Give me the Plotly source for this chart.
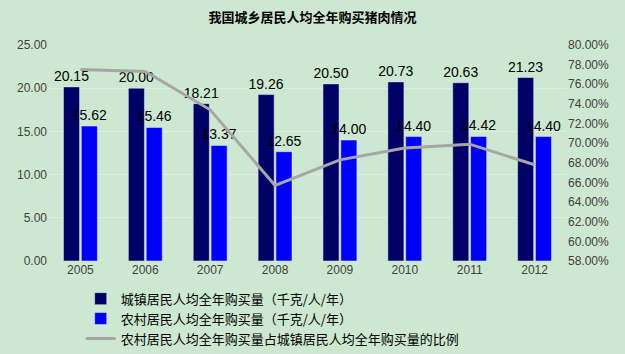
import plotly.graph_objects as go

years = ["2005", "2006", "2007", "2008", "2009", "2010", "2011", "2012"]
urban = [20.15, 20.00, 18.21, 19.26, 20.50, 20.73, 20.63, 21.23]
rural = [15.62, 15.46, 13.37, 12.65, 14.00, 14.40, 14.42, 14.40]
ratio = [77.5, 77.3, 73.4, 65.7, 68.3, 69.5, 69.9, 67.8]

name_urban = "城镇居民人均全年购买量（千克/人/年）"
name_rural = "农村居民人均全年购买量（千克/人/年）"
name_ratio = "农村居民人均全年购买量占城镇居民人均全年购买量的比例"

bg = "#CDE8D0"
grid = "#DDEFDD"
lab_font = dict(family="Liberation Sans, Arial", size=14, color="#000000")

fig = go.Figure()
fig.add_trace(go.Bar(x=years, y=urban, name=name_urban, marker_color="#000066",
                     text=[f"{v:.2f}" for v in urban], textposition="outside",
                     constraintext="none",
                     textfont=lab_font, cliponaxis=False))
fig.add_trace(go.Bar(x=years, y=rural, name=name_rural, marker_color="#0000FF",
                     text=[f"{v:.2f}" for v in rural], textposition="outside",
                     constraintext="none",
                     textfont=lab_font, cliponaxis=False))
fig.add_trace(go.Scatter(x=years, y=ratio, name=name_ratio, yaxis="y2", mode="lines",
                         line=dict(color="#A6A6A6", width=3)))

tick_font = dict(family="Liberation Sans, Arial", size=12, color="#404040")
fig.update_layout(
    width=625, height=354,
    paper_bgcolor=bg, plot_bgcolor=bg,
    margin=dict(l=48, r=58, t=45, b=93, autoexpand=False),
    title=dict(text="<b>我国城乡居民人均全年购买猪肉情况</b>", x=0.5, xanchor="center",
               y=0.95, yanchor="middle",
               font=dict(family="Noto Sans CJK SC", size=13, color="#000000")),
    barmode="group", bargap=0.45, bargroupgap=0.1,
    xaxis=dict(tickfont=tick_font, showgrid=False, zeroline=False, showline=False),
    yaxis=dict(range=[0, 25], dtick=5, tickformat=".2f", tickfont=tick_font,
               gridcolor=grid, zeroline=False, showline=False),
    yaxis2=dict(range=[58, 80], dtick=2, overlaying="y", side="right",
                ticksuffix="%", tickformat=".2f", tickfont=tick_font,
                showgrid=False, zeroline=False, showline=False),
    legend=dict(x=0.063, xanchor="left", y=-0.105, yanchor="top",
                font=dict(family="Noto Sans CJK SC", size=13, color="#000000"),
                bgcolor="rgba(0,0,0,0)", tracegroupgap=0, itemwidth=30),
    showlegend=True,
)
fig.write_html("out.html")
